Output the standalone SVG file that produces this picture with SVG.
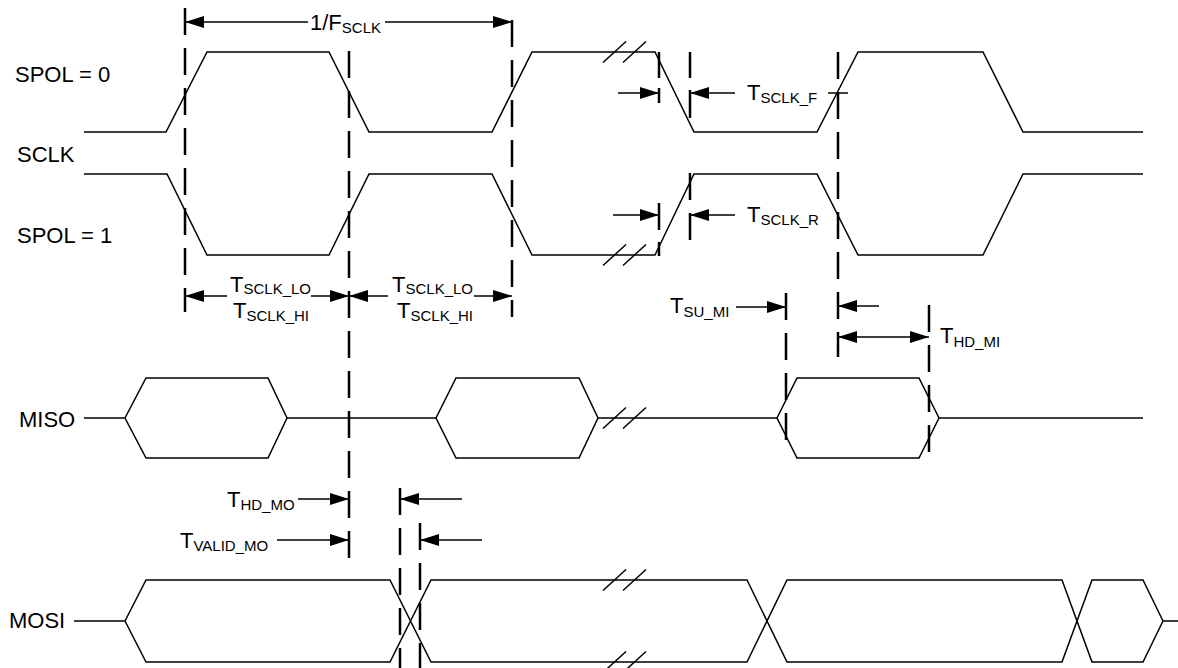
<svg xmlns="http://www.w3.org/2000/svg" width="1178" height="668" viewBox="0 0 1178 668">
<style>
.w{fill:none;stroke:#000;stroke-width:1.5;stroke-linejoin:miter}
.d{fill:none;stroke:#000;stroke-width:2.5;stroke-dasharray:27 13}
.k{stroke:#000;stroke-width:2.5}
.a{fill:none;stroke:#000;stroke-width:1.5}
.lbl{font-family:"Liberation Sans",Arial,sans-serif;font-size:22px;fill:#000}
.sub{font-size:15px}
</style>
<defs>
<marker id="ah" viewBox="0 0 19 12" markerWidth="19" markerHeight="12" refX="19" refY="6" orient="auto-start-reverse" markerUnits="userSpaceOnUse"><path d="M0,0 L19,6 L0,12 z" fill="#000"/></marker>
<g id="brk"><line x1="-12" y1="10.5" x2="11" y2="-10.5" class="w"/><line x1="8" y1="10.5" x2="31" y2="-10.5" class="w"/></g>
</defs>
<rect width="1178" height="668" fill="#fff"/>

<g id="labels" class="lbl">
<text x="15" y="82">SPOL = 0</text>
<text x="17" y="162">SCLK</text>
<text x="17" y="243">SPOL = 1</text>
<text x="19" y="427">MISO</text>
<text x="9" y="628">MOSI</text>
</g>

<g id="sig-spol0">
<path class="w" d="M84,132 H166 L207,52 H329 L369,132 H492 L532,52 H655 L694,132 H817 L858,52 H983 L1023,132 H1143"/>
<use href="#brk" x="615" y="52"/>
</g>
<g id="sig-spol1">
<path class="w" d="M84,174 H167 L207,255 H329 L369,174 H492 L532,255 H655 L694,174 H817 L858,255 H983 L1023,174 H1143"/>
<use href="#brk" x="615" y="255"/>
</g>
<g id="sig-miso">
<path class="w" d="M84,418 H125 M287,418 H436 M598,418 H777 M939,418 H1143"/>
<polygon class="w" points="125,418 146,378 268,378 287,418 268,458 146,458"/>
<polygon class="w" points="436,418 456,378 579,378 598,418 579,458 456,458"/>
<polygon class="w" points="777,418 797,378 919,378 939,418 919,458 797,458"/>
<use href="#brk" x="615" y="418"/>
</g>
<g id="sig-mosi">
<path class="w" d="M74,621 H125 M1163,621 H1178"/>
<path class="w" d="M125,621 L146,580 H390 L431,662 H747 L787,580 H1062 L1092,662 H1143 L1163,621"/>
<path class="w" d="M125,621 L146,662 H390 L431,580 H747 L787,662 H1062 L1092,580 H1143 L1163,621"/>
<use href="#brk" x="615" y="580"/>
<use href="#brk" x="615" y="662"/>
</g>

<g id="guides">
<line class="d" x1="185" y1="8" x2="185" y2="312"/>
<line class="d" x1="349" y1="51" x2="349" y2="560"/>
<line class="d" x1="512" y1="20" x2="512" y2="317"/>
<line class="d" x1="838" y1="52" x2="838" y2="357"/>
<line class="d" x1="786" y1="293" x2="786" y2="443"/>
<line class="d" x1="929" y1="305" x2="929" y2="453"/>
<line class="d" x1="400" y1="488" x2="400" y2="668"/>
<line class="d" x1="420" y1="523" x2="420" y2="668"/>
<line class="k" x1="659" y1="52" x2="659" y2="78"/>
<line class="k" x1="659" y1="88" x2="659" y2="103"/>
<line class="k" x1="690" y1="52" x2="690" y2="78"/>
<line class="k" x1="690" y1="90" x2="690" y2="118"/>
<line class="k" x1="659" y1="203" x2="659" y2="230"/>
<line class="k" x1="659" y1="242" x2="659" y2="256"/>
<line class="k" x1="690" y1="173" x2="690" y2="200"/>
<line class="k" x1="690" y1="213" x2="690" y2="240"/>
<line class="a" x1="828" y1="93" x2="848" y2="93"/>
</g>

<g id="connectors" class="a">
<line x1="308" y1="22" x2="185" y2="22" marker-end="url(#ah)"/>
<line x1="385" y1="22" x2="512" y2="22" marker-end="url(#ah)"/>
<line x1="618" y1="93" x2="659" y2="93" marker-end="url(#ah)"/>
<line x1="735" y1="93" x2="690" y2="93" marker-end="url(#ah)"/>
<line x1="613" y1="215" x2="659" y2="215" marker-end="url(#ah)"/>
<line x1="735" y1="215" x2="690" y2="215" marker-end="url(#ah)"/>
<line x1="227" y1="296" x2="185" y2="296" marker-end="url(#ah)"/>
<line x1="311" y1="296" x2="349" y2="296" marker-end="url(#ah)"/>
<line x1="388" y1="296" x2="349" y2="296" marker-end="url(#ah)"/>
<line x1="474" y1="296" x2="512" y2="296" marker-end="url(#ah)"/>
<line x1="736" y1="307" x2="786" y2="307" marker-end="url(#ah)"/>
<line x1="879" y1="306" x2="838" y2="306" marker-end="url(#ah)"/>
<line x1="838" y1="337" x2="929" y2="337" marker-start="url(#ah)" marker-end="url(#ah)"/>
<line x1="298" y1="499" x2="349" y2="499" marker-end="url(#ah)"/>
<line x1="462" y1="499" x2="400" y2="499" marker-end="url(#ah)"/>
<line x1="277" y1="540" x2="349" y2="540" marker-end="url(#ah)"/>
<line x1="482" y1="540" x2="420" y2="540" marker-end="url(#ah)"/>
</g>

<g id="timing-labels" class="lbl">
<text x="310" y="30">1/F<tspan class="sub" dy="3">SCLK</tspan></text>
<text x="747" y="100">T<tspan class="sub" dy="3">SCLK_F</tspan></text>
<text x="747" y="222">T<tspan class="sub" dy="3">SCLK_R</tspan></text>
<text x="230" y="292">T<tspan class="sub" dy="2">SCLK_LO</tspan></text>
<text x="233" y="318">T<tspan class="sub" dy="3">SCLK_HI</tspan></text>
<text x="392" y="292">T<tspan class="sub" dy="2">SCLK_LO</tspan></text>
<text x="397" y="318">T<tspan class="sub" dy="3">SCLK_HI</tspan></text>
<text x="670" y="313">T<tspan class="sub" dy="4">SU_MI</tspan></text>
<text x="940" y="343">T<tspan class="sub" dy="4">HD_MI</tspan></text>
<text x="227" y="507">T<tspan class="sub" dy="3">HD_MO</tspan></text>
<text x="180" y="548">T<tspan class="sub" dy="3">VALID_MO</tspan></text>
</g>
</svg>
